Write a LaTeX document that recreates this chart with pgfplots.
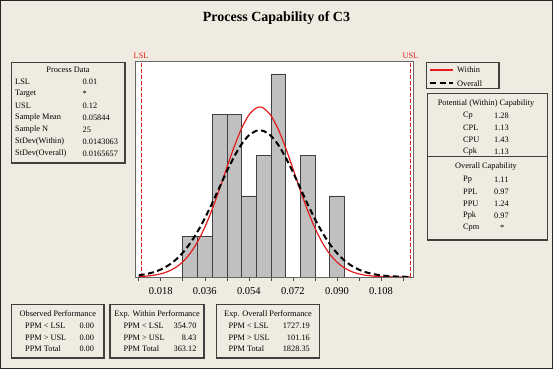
\documentclass[border=0pt]{standalone}
\usepackage{fontspec}
\setmainfont{Liberation Serif}
\usepackage{pgfplots}
\pgfplotsset{compat=1.18}
\definecolor{bg}{RGB}{239,235,225}
\definecolor{boxc}{RGB}{64,64,64}
\definecolor{barc}{RGB}{192,192,192}
\definecolor{myred}{RGB}{228,28,28}
\newcommand{\sm}{\fontsize{8.3}{10}\selectfont}
\begin{document}
\begin{tikzpicture}[x=1pt,y=1pt]
\fill[bg] (0,0) rectangle (553,369);
\draw[black!85,line width=1pt] (0.5,0.5) rectangle (552.5,368.5);
% title
\node[font=\fontsize{14}{16}\selectfont\bfseries,anchor=base] at (276.5,347) {Process Capability of C3};

\begin{axis}[
  at={(135.7pt,92pt)}, anchor=south west,
  scale only axis, width=277.3pt, height=215.3pt,
  xmin=0.00779, xmax=0.12107, ymin=0, ymax=5.3,
  axis background/.style={fill=white},
  axis line style={black!60, line width=0.6pt},
  ytick=\empty,
  xtick={0.018,0.036,0.054,0.072,0.090,0.108},
  xticklabels={0.018,0.036,0.054,0.072,0.090,0.108},
  minor xtick={0.009,0.027,0.045,0.063,0.081,0.099,0.117},
  xtick pos=bottom, tick align=outside,
  major tick length=4pt, minor tick length=4pt,
  every tick/.style={black!70, line width=0.5pt},
  xticklabel style={font=\fontsize{10.5}{12}\selectfont, yshift=-3pt},
  /pgf/number format/assume math mode=true,
  clip mode=individual,
]
\addplot[ybar, bar width=0.006, fill=barc, draw=boxc, line width=0.5pt] coordinates {
(0.030,1)(0.036,1)(0.042,4)(0.048,4)(0.054,2)(0.060,3)(0.066,5)(0.078,3)(0.090,2)
};
\addplot[draw=myred, dash pattern=on 4pt off 2pt, line width=1pt, mark=none] coordinates {(0.0101,0)(0.0101,5.3)};
\addplot[draw=myred, dash pattern=on 4pt off 2pt, line width=1pt, mark=none] coordinates {(0.1201,0)(0.1201,5.3)};
\addplot[myred, line width=1.2pt, smooth] coordinates {
(0.009,0.0107)(0.012,0.0216)(0.015,0.0417)(0.018,0.0770)(0.021,0.1363)(0.024,0.2308)(0.027,0.3740)(0.030,0.5799)(0.033,0.8608)(0.036,1.2225)(0.039,1.6617)(0.042,2.1614)(0.045,2.6906)(0.048,3.2050)(0.051,3.6540)(0.054,3.9863)(0.057,4.1618)(0.0584,4.183)(0.060,4.1582)(0.063,3.9758)(0.066,3.6380)(0.069,3.1855)(0.072,2.6694)(0.075,2.1408)(0.078,1.6427)(0.081,1.2065)(0.084,0.8480)(0.087,0.5703)(0.090,0.3671)(0.093,0.2261)(0.096,0.1333)(0.099,0.0752)(0.102,0.0406)(0.105,0.0210)(0.108,0.0104)(0.111,0.0049)(0.114,0.0022)(0.117,0.0010)(0.120,0.0004)
};
\addplot[black, line width=2pt, dash pattern=on 6pt off 3.5pt, smooth] coordinates {
(0.009,0.0420)(0.012,0.0710)(0.015,0.1160)(0.018,0.1835)(0.021,0.2809)(0.024,0.4161)(0.027,0.5965)(0.030,0.8275)(0.033,1.1108)(0.036,1.4431)(0.039,1.8142)(0.042,2.2074)(0.045,2.5992)(0.048,2.9614)(0.051,3.2654)(0.054,3.4846)(0.057,3.5984)(0.0584,3.612)(0.060,3.5960)(0.063,3.4777)(0.066,3.2548)(0.069,2.9478)(0.072,2.5838)(0.075,2.1915)(0.078,1.7988)(0.081,1.4288)(0.084,1.0984)(0.087,0.8172)(0.090,0.5883)(0.093,0.4098)(0.096,0.2763)(0.099,0.1803)(0.102,0.1138)(0.105,0.0695)(0.108,0.0411)(0.111,0.0235)(0.114,0.0130)(0.117,0.0070)(0.120,0.0036)
};
\node[myred, font=\sm, anchor=south, inner sep=1pt, yshift=2pt] at (axis cs:0.010,5.3) {LSL};
\node[myred, font=\sm, anchor=south, inner sep=1pt, yshift=2pt] at (axis cs:0.120,5.3) {USL};
\end{axis}

% Process Data box
\draw[boxc, line width=1.5pt] (11.5,306.7) rectangle (125,206);
\node[font=\sm] at (68,299.5) {Process Data};
\begin{scope}[every node/.style={font=\sm, anchor=west, inner sep=0pt}]
\node at (15,287.5) {LSL};            \node at (82.5,287.5) {0.01};
\node at (15,275.5) {Target};         \node at (82.5,275.5) {*};
\node at (15,263.5) {USL};            \node at (82.5,263.5) {0.12};
\node at (15,251.5) {Sample Mean};    \node at (82.5,251.5) {0.05844};
\node at (15,239.5) {Sample N};       \node at (82.5,239.5) {25};
\node at (15,227.5) {StDev(Within)};  \node at (82.5,227.5) {0.0143063};
\node at (15,215.5) {StDev(Overall)}; \node at (82.5,215.5) {0.0165657};
\end{scope}

% Legend
\draw[boxc, line width=1.2pt, fill=bg] (426.7,306.7) rectangle (499,280.7);
\draw[myred, line width=1.2pt] (430,299) -- (453,299);
\draw[black, line width=2pt, dash pattern=on 6pt off 3.5pt] (430,285.7) -- (453,285.7);
\node[font=\sm, anchor=west, inner sep=0pt] at (457,299) {Within};
\node[font=\sm, anchor=west, inner sep=0pt] at (457,285.7) {Overall};

% Capability box
\draw[boxc, line width=1.2pt] (427.3,275.7) rectangle (547.7,129);
\draw[boxc, line width=1.2pt] (427.3,212.3) -- (547.7,212.3);
\node[font=\sm] at (486,265.7) {Potential (Within) Capability};
\node[font=\sm] at (486,202.3) {Overall Capability};
\begin{scope}[every node/.style={font=\sm, anchor=west, inner sep=0pt}]
\node at (463,253.5) {Cp};  \node at (494,253.5) {1.28};
\node at (463,241.5) {CPL}; \node at (494,241.5) {1.13};
\node at (463,229.5) {CPU}; \node at (494,229.5) {1.43};
\node at (463,217.5) {Cpk}; \node at (494,217.5) {1.13};
\node at (463,189) {Pp};    \node at (494,189) {1.11};
\node at (463,177) {PPL};   \node at (494,177) {0.97};
\node at (463,165) {PPU};   \node at (494,165) {1.24};
\node at (463,153) {Ppk};   \node at (494,153) {0.97};
\node at (463,141) {Cpm};   \node at (500,141) {*};
\end{scope}

% Bottom boxes
\draw[boxc, line width=1.5pt] (11.7,64.5) rectangle (104,11);
\draw[boxc, line width=1.5pt] (110,64.5) rectangle (204,11);
\draw[boxc, line width=1.5pt] (216.7,64.5) rectangle (319.3,11);
\node[font=\sm] at (57.8,55) {Observed Performance};
\node[font=\sm] at (157,55) {Exp. Within Performance};
\node[font=\sm] at (268,55) {Exp. Overall Performance};
\begin{scope}[every node/.style={font=\sm, anchor=west, inner sep=0pt}]
\node at (25,43.3) {PPM < LSL}; \node at (79.3,43.3) {0.00};
\node at (25,31.6) {PPM > USL}; \node at (79.3,31.6) {0.00};
\node at (25,19.9) {PPM Total}; \node at (79.3,19.9) {0.00};
\node at (123.3,43.3) {PPM < LSL};
\node at (123.3,31.6) {PPM > USL};
\node at (123.3,19.9) {PPM Total};
\node at (228.3,43.3) {PPM < LSL};
\node at (228.3,31.6) {PPM > USL};
\node at (228.3,19.9) {PPM Total};
\end{scope}
\begin{scope}[every node/.style={font=\sm, anchor=east, inner sep=0pt}]
\node at (196.7,43.3) {354.70};
\node at (196.7,31.6) {8.43};
\node at (196.7,19.9) {363.12};
\node at (310,43.3) {1727.19};
\node at (310,31.6) {101.16};
\node at (310,19.9) {1828.35};
\end{scope}
\end{tikzpicture}
\end{document}
